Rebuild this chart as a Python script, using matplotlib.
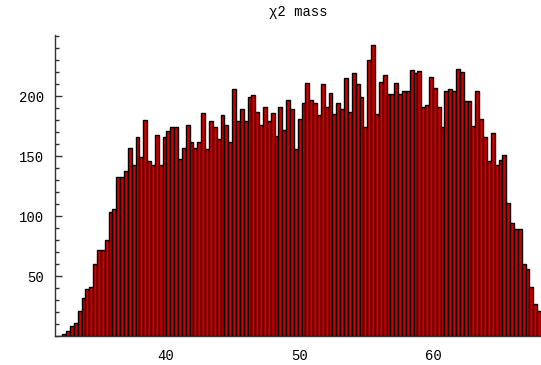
import numpy as np
import matplotlib.pyplot as plt
from matplotlib.ticker import MultipleLocator, FixedLocator

# histogram counts (125 bins between 32 and 68)
counts = [
    0, 2, 4, 8, 11, 21, 32, 39, 41, 60, 72, 72, 80, 103, 106, 133, 133, 138, 157, 143, 166,
    149, 180, 146, 143, 168, 143, 166, 171, 174, 174, 148, 157, 176, 162, 157, 162, 186, 156, 179, 174, 164,
    184, 176, 162, 206, 179, 189, 179, 199, 201, 187, 176, 191, 179, 186, 167, 191, 172, 197, 189, 156,
    181, 194, 211, 197, 194, 184, 210, 191, 203, 185, 194, 189, 215, 187, 219, 210, 199, 174, 230, 243,
    185, 212, 218, 202, 202, 211, 202, 204, 204, 222, 219, 221, 191, 193, 216, 207, 191, 174, 204, 206,
    204, 223, 220, 196, 196, 175, 204, 181, 166, 146, 169, 143, 147, 151, 111, 94, 89, 89, 60, 56, 41, 27, 21,
]
mass_min, mass_max = 32.0, 68.0
x_ticks = [40, 50, 60]
y_ticks = [50, 100, 150, 200]
title = "\u03c72 mass"

edges = np.linspace(mass_min, mass_max, len(counts) + 1)
widths = np.diff(edges)

fig = plt.figure(figsize=(5.41, 3.65), dpi=100)
ax = fig.add_axes([55 / 541, 29 / 365, 486 / 541, 301 / 365])

ax.bar(edges[:-1], counts, width=widths, align='edge',
       color='#cc0000', edgecolor='black', linewidth=1.0)

ax.set_xlim(31.75, 68.0)
ax.set_ylim(0, 251)

for side in ['top', 'right']:
    ax.spines[side].set_visible(False)
for side in ['left', 'bottom']:
    ax.spines[side].set_color('#333333')
    ax.spines[side].set_linewidth(1.0)

ax.xaxis.set_major_locator(FixedLocator(x_ticks))
ax.yaxis.set_major_locator(FixedLocator(y_ticks))
ax.yaxis.set_minor_locator(MultipleLocator(10))
ax.tick_params(which='both', direction='in', color='#333333', width=1.0)
ax.tick_params(which='major', length=5)
ax.tick_params(which='minor', length=3)
ax.tick_params(axis='x', which='major', length=0, pad=9)
ax.tick_params(axis='y', which='major', pad=8)

mono = 'Liberation Mono'
for lab in ax.get_xticklabels() + ax.get_yticklabels():
    lab.set_family(mono)
    lab.set_fontsize(10)

ax.set_title(title, family=mono, fontsize=10, pad=14)

fig.savefig('out.png', dpi=100)
